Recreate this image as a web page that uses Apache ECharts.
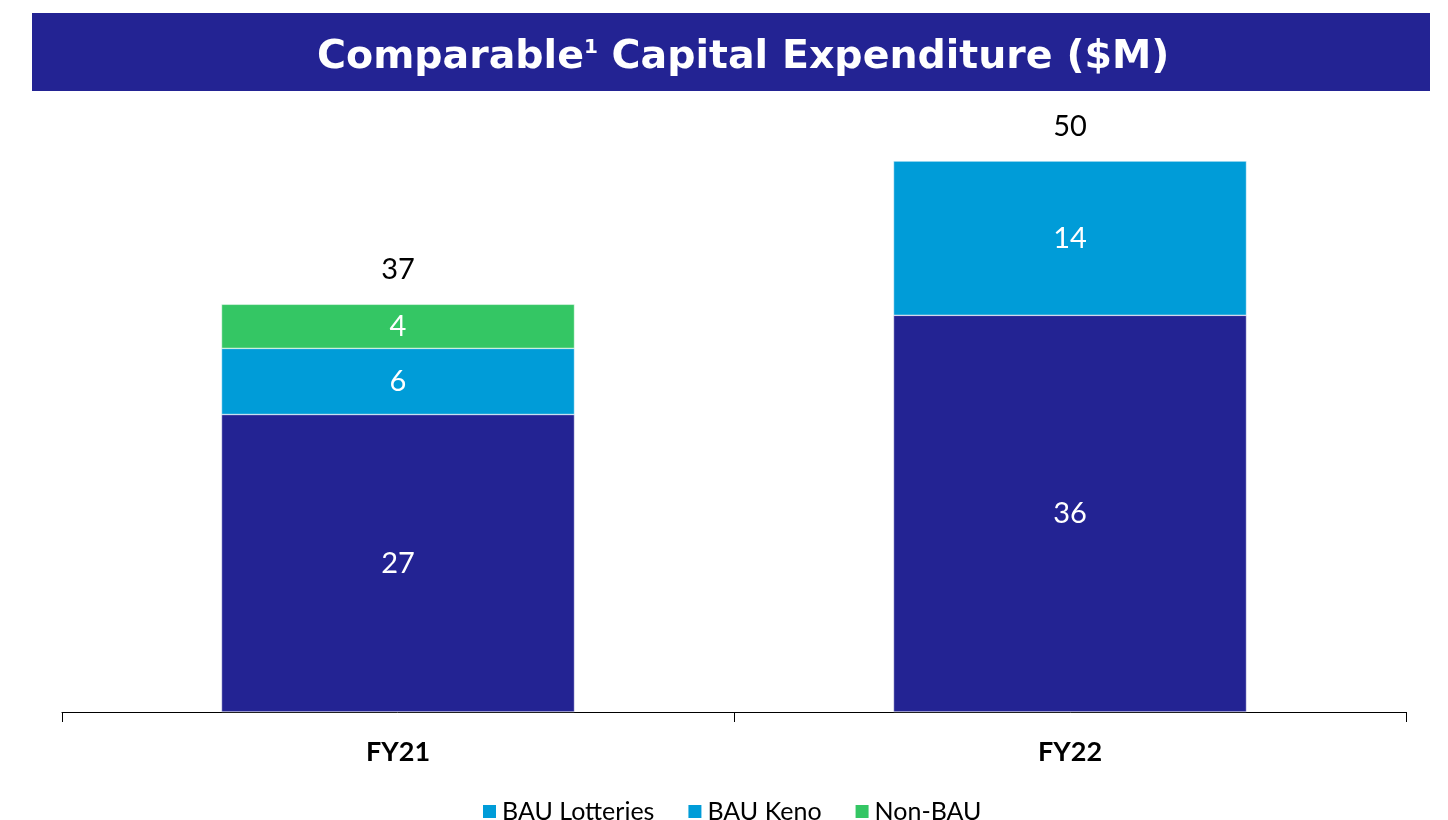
<!DOCTYPE html>
<html>
<head>
<meta charset="utf-8">
<style>
  html, body { margin: 0; padding: 0; background: #fff; }
  #main { width: 1448px; height: 820px; }
</style>
<script src="https://cdn.jsdelivr.net/npm/echarts@6/dist/echarts.min.js"></script>
</head>
<body>
<div id="main"></div>
<script>
var categories = ['FY21', 'FY22'];
var lotteries = [27, 36];
var keno = [6, 14];
var nonBau = [4, null];
var totals = [37, 50];

var navy = '#232393';
var blue = '#009CD8';
var green = '#34C664';

var myChart = echarts.init(document.getElementById('main'));
var option = {
    backgroundColor: '#fff',
    textStyle: { fontFamily: 'Lato' },
    graphic: [
        {
            type: 'rect',
            shape: { x: 32, y: 13, width: 1398, height: 78 },
            style: { fill: navy },
            z: 0
        }
    ],
    title: {
        text: '{a|Comparable}{s|1}{a| Capital Expenditure ($M)}',
        left: 312,
        top: 33,
        textStyle: {
            rich: {
                a: { color: '#fff', fontSize: 39.5, fontWeight: 'bold', fontFamily: 'DejaVu Sans' },
                s: { color: '#fff', fontSize: 20, fontWeight: 'bold', fontFamily: 'DejaVu Sans', verticalAlign: 'top', padding: [0, 0, 20, 0] }
            }
        },
        z: 10
    },
    legend: {
        top: 794,
        left: 476,
        itemWidth: 15,
        itemHeight: 15,
        itemGap: 32,
        icon: 'rect',
        textStyle: { fontSize: 25, color: '#000', fontFamily: 'Lato' },
        data: [
            { name: 'BAU Lotteries', itemStyle: { color: blue } },
            'BAU Keno',
            'Non-BAU'
        ]
    },
    grid: { left: 62, right: 42, top: 106, bottom: 108 },
    xAxis: {
        type: 'category',
        data: categories,
        axisLine: { lineStyle: { color: '#000', width: 1 } },
        axisTick: { show: true, length: 10, lineStyle: { color: '#000' } },
        axisLabel: { color: '#000', fontSize: 27, fontWeight: 'bold', margin: 27, fontFamily: 'Lato' }
    },
    yAxis: {
        type: 'value',
        min: 0,
        max: 55,
        show: false,
        splitLine: { show: false }
    },
    series: [
        {
            name: 'BAU Lotteries',
            type: 'bar',
            stack: 'capex',
            barWidth: 353,
            data: lotteries,
            itemStyle: { color: navy, borderColor: '#fff', borderWidth: 0.5 },
            label: { show: true, position: 'inside', color: '#fff', fontSize: 29, fontFamily: 'Lato' }
        },
        {
            name: 'BAU Keno',
            type: 'bar',
            stack: 'capex',
            data: keno,
            itemStyle: { color: blue, borderColor: '#fff', borderWidth: 0.5 },
            label: { show: true, position: 'inside', color: '#fff', fontSize: 29, fontFamily: 'Lato' }
        },
        {
            name: 'Non-BAU',
            type: 'bar',
            stack: 'capex',
            data: nonBau,
            itemStyle: { color: green, borderColor: '#fff', borderWidth: 0.5 },
            label: { show: true, position: 'inside', color: '#fff', fontSize: 29, fontFamily: 'Lato' }
        },
        {
            name: 'Total',
            type: 'bar',
            stack: 'capex',
            data: [0, 0],
            itemStyle: { color: 'transparent' },
            label: {
                show: true,
                position: 'top',
                distance: 20,
                color: '#000',
                fontSize: 29,
                fontFamily: 'Lato',
                formatter: function (p) { return totals[p.dataIndex]; }
            }
        }
    ]
};
myChart.setOption(option);
</script>
</body>
</html>
